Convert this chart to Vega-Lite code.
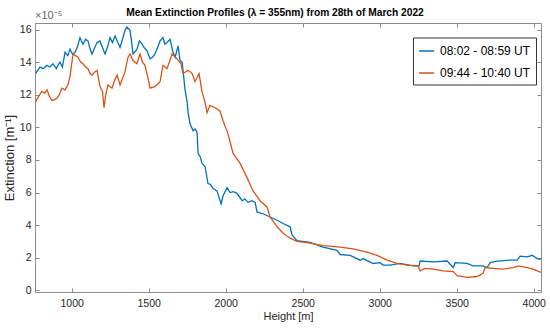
{
  "$schema": "https://vega.github.io/schema/vega-lite/v6.json",
  "autosize": "none",
  "width": 506,
  "height": 269,
  "padding": {"left": 35, "top": 23, "right": 9, "bottom": 37},
  "background": "white",
  "config": {
    "font": "Liberation Sans",
    "view": {"stroke": "#8c8c8c", "strokeWidth": 1},
    "axis": {"domainColor": "#8c8c8c", "tickColor": "#8c8c8c", "labelColor": "#262626", "titleColor": "#262626", "labelFontSize": 10.5, "titleFontSize": 11, "titleFontWeight": "normal", "grid": false}
  },
  "title": {"text": "Mean Extinction Profiles (λ = 355nm) from 28th of March 2022", "fontSize": 10.2, "fontWeight": "bold", "color": "#000000", "anchor": "middle", "offset": 5, "dx": -13, "dy": 13},
  "datasets": {
    "profiles": [
      {"h": 765, "v": 13.3, "s": "08:02 - 08:59 UT"},
      {"h": 794, "v": 13.7, "s": "08:02 - 08:59 UT"},
      {"h": 814, "v": 13.6, "s": "08:02 - 08:59 UT"},
      {"h": 840, "v": 13.8, "s": "08:02 - 08:59 UT"},
      {"h": 859, "v": 13.7, "s": "08:02 - 08:59 UT"},
      {"h": 879, "v": 13.9, "s": "08:02 - 08:59 UT"},
      {"h": 900, "v": 13.6, "s": "08:02 - 08:59 UT"},
      {"h": 911, "v": 13.8, "s": "08:02 - 08:59 UT"},
      {"h": 924, "v": 14.0, "s": "08:02 - 08:59 UT"},
      {"h": 940, "v": 13.7, "s": "08:02 - 08:59 UT"},
      {"h": 957, "v": 14.6, "s": "08:02 - 08:59 UT"},
      {"h": 975, "v": 14.4, "s": "08:02 - 08:59 UT"},
      {"h": 989, "v": 14.8, "s": "08:02 - 08:59 UT"},
      {"h": 1005, "v": 14.5, "s": "08:02 - 08:59 UT"},
      {"h": 1022, "v": 14.6, "s": "08:02 - 08:59 UT"},
      {"h": 1040, "v": 15.0, "s": "08:02 - 08:59 UT"},
      {"h": 1054, "v": 15.5, "s": "08:02 - 08:59 UT"},
      {"h": 1074, "v": 15.1, "s": "08:02 - 08:59 UT"},
      {"h": 1090, "v": 15.4, "s": "08:02 - 08:59 UT"},
      {"h": 1106, "v": 15.3, "s": "08:02 - 08:59 UT"},
      {"h": 1120, "v": 14.8, "s": "08:02 - 08:59 UT"},
      {"h": 1132, "v": 14.5, "s": "08:02 - 08:59 UT"},
      {"h": 1150, "v": 14.9, "s": "08:02 - 08:59 UT"},
      {"h": 1165, "v": 15.2, "s": "08:02 - 08:59 UT"},
      {"h": 1184, "v": 15.3, "s": "08:02 - 08:59 UT"},
      {"h": 1200, "v": 14.9, "s": "08:02 - 08:59 UT"},
      {"h": 1217, "v": 14.5, "s": "08:02 - 08:59 UT"},
      {"h": 1235, "v": 15.0, "s": "08:02 - 08:59 UT"},
      {"h": 1249, "v": 15.5, "s": "08:02 - 08:59 UT"},
      {"h": 1265, "v": 15.2, "s": "08:02 - 08:59 UT"},
      {"h": 1282, "v": 15.6, "s": "08:02 - 08:59 UT"},
      {"h": 1300, "v": 15.2, "s": "08:02 - 08:59 UT"},
      {"h": 1314, "v": 14.9, "s": "08:02 - 08:59 UT"},
      {"h": 1330, "v": 15.4, "s": "08:02 - 08:59 UT"},
      {"h": 1346, "v": 15.95, "s": "08:02 - 08:59 UT"},
      {"h": 1359, "v": 16.15, "s": "08:02 - 08:59 UT"},
      {"h": 1379, "v": 15.95, "s": "08:02 - 08:59 UT"},
      {"h": 1390, "v": 15.2, "s": "08:02 - 08:59 UT"},
      {"h": 1398, "v": 14.5, "s": "08:02 - 08:59 UT"},
      {"h": 1424, "v": 14.8, "s": "08:02 - 08:59 UT"},
      {"h": 1440, "v": 15.3, "s": "08:02 - 08:59 UT"},
      {"h": 1457, "v": 15.1, "s": "08:02 - 08:59 UT"},
      {"h": 1470, "v": 14.9, "s": "08:02 - 08:59 UT"},
      {"h": 1489, "v": 14.7, "s": "08:02 - 08:59 UT"},
      {"h": 1509, "v": 14.2, "s": "08:02 - 08:59 UT"},
      {"h": 1525, "v": 14.3, "s": "08:02 - 08:59 UT"},
      {"h": 1541, "v": 14.5, "s": "08:02 - 08:59 UT"},
      {"h": 1558, "v": 14.9, "s": "08:02 - 08:59 UT"},
      {"h": 1574, "v": 15.3, "s": "08:02 - 08:59 UT"},
      {"h": 1593, "v": 15.5, "s": "08:02 - 08:59 UT"},
      {"h": 1605, "v": 15.1, "s": "08:02 - 08:59 UT"},
      {"h": 1619, "v": 15.2, "s": "08:02 - 08:59 UT"},
      {"h": 1639, "v": 15.4, "s": "08:02 - 08:59 UT"},
      {"h": 1658, "v": 14.6, "s": "08:02 - 08:59 UT"},
      {"h": 1672, "v": 14.3, "s": "08:02 - 08:59 UT"},
      {"h": 1691, "v": 15.0, "s": "08:02 - 08:59 UT"},
      {"h": 1704, "v": 14.1, "s": "08:02 - 08:59 UT"},
      {"h": 1717, "v": 14.0, "s": "08:02 - 08:59 UT"},
      {"h": 1723, "v": 13.5, "s": "08:02 - 08:59 UT"},
      {"h": 1736, "v": 12.3, "s": "08:02 - 08:59 UT"},
      {"h": 1749, "v": 11.6, "s": "08:02 - 08:59 UT"},
      {"h": 1756, "v": 10.9, "s": "08:02 - 08:59 UT"},
      {"h": 1769, "v": 10.2, "s": "08:02 - 08:59 UT"},
      {"h": 1788, "v": 9.8, "s": "08:02 - 08:59 UT"},
      {"h": 1801, "v": 9.9, "s": "08:02 - 08:59 UT"},
      {"h": 1814, "v": 9.7, "s": "08:02 - 08:59 UT"},
      {"h": 1821, "v": 8.4, "s": "08:02 - 08:59 UT"},
      {"h": 1834, "v": 8.2, "s": "08:02 - 08:59 UT"},
      {"h": 1846, "v": 7.8, "s": "08:02 - 08:59 UT"},
      {"h": 1866, "v": 7.6, "s": "08:02 - 08:59 UT"},
      {"h": 1885, "v": 6.55, "s": "08:02 - 08:59 UT"},
      {"h": 1900, "v": 6.5, "s": "08:02 - 08:59 UT"},
      {"h": 1918, "v": 6.25, "s": "08:02 - 08:59 UT"},
      {"h": 1944, "v": 6.1, "s": "08:02 - 08:59 UT"},
      {"h": 1970, "v": 5.3, "s": "08:02 - 08:59 UT"},
      {"h": 1983, "v": 5.8, "s": "08:02 - 08:59 UT"},
      {"h": 2009, "v": 6.3, "s": "08:02 - 08:59 UT"},
      {"h": 2028, "v": 6.0, "s": "08:02 - 08:59 UT"},
      {"h": 2050, "v": 6.05, "s": "08:02 - 08:59 UT"},
      {"h": 2074, "v": 5.95, "s": "08:02 - 08:59 UT"},
      {"h": 2106, "v": 5.5, "s": "08:02 - 08:59 UT"},
      {"h": 2125, "v": 5.6, "s": "08:02 - 08:59 UT"},
      {"h": 2145, "v": 5.4, "s": "08:02 - 08:59 UT"},
      {"h": 2170, "v": 5.5, "s": "08:02 - 08:59 UT"},
      {"h": 2191, "v": 5.4, "s": "08:02 - 08:59 UT"},
      {"h": 2204, "v": 4.8, "s": "08:02 - 08:59 UT"},
      {"h": 2243, "v": 4.7, "s": "08:02 - 08:59 UT"},
      {"h": 2288, "v": 4.5, "s": "08:02 - 08:59 UT"},
      {"h": 2334, "v": 4.3, "s": "08:02 - 08:59 UT"},
      {"h": 2373, "v": 4.1, "s": "08:02 - 08:59 UT"},
      {"h": 2418, "v": 3.9, "s": "08:02 - 08:59 UT"},
      {"h": 2431, "v": 3.4, "s": "08:02 - 08:59 UT"},
      {"h": 2463, "v": 3.05, "s": "08:02 - 08:59 UT"},
      {"h": 2548, "v": 2.95, "s": "08:02 - 08:59 UT"},
      {"h": 2632, "v": 2.65, "s": "08:02 - 08:59 UT"},
      {"h": 2723, "v": 2.45, "s": "08:02 - 08:59 UT"},
      {"h": 2743, "v": 2.2, "s": "08:02 - 08:59 UT"},
      {"h": 2808, "v": 2.15, "s": "08:02 - 08:59 UT"},
      {"h": 2873, "v": 1.85, "s": "08:02 - 08:59 UT"},
      {"h": 2892, "v": 1.95, "s": "08:02 - 08:59 UT"},
      {"h": 2957, "v": 1.65, "s": "08:02 - 08:59 UT"},
      {"h": 3002, "v": 1.7, "s": "08:02 - 08:59 UT"},
      {"h": 3022, "v": 1.55, "s": "08:02 - 08:59 UT"},
      {"h": 3067, "v": 1.55, "s": "08:02 - 08:59 UT"},
      {"h": 3132, "v": 1.65, "s": "08:02 - 08:59 UT"},
      {"h": 3217, "v": 1.5, "s": "08:02 - 08:59 UT"},
      {"h": 3256, "v": 1.5, "s": "08:02 - 08:59 UT"},
      {"h": 3262, "v": 1.8, "s": "08:02 - 08:59 UT"},
      {"h": 3347, "v": 1.75, "s": "08:02 - 08:59 UT"},
      {"h": 3438, "v": 1.8, "s": "08:02 - 08:59 UT"},
      {"h": 3477, "v": 1.4, "s": "08:02 - 08:59 UT"},
      {"h": 3490, "v": 1.7, "s": "08:02 - 08:59 UT"},
      {"h": 3567, "v": 1.65, "s": "08:02 - 08:59 UT"},
      {"h": 3606, "v": 1.5, "s": "08:02 - 08:59 UT"},
      {"h": 3671, "v": 1.5, "s": "08:02 - 08:59 UT"},
      {"h": 3697, "v": 1.4, "s": "08:02 - 08:59 UT"},
      {"h": 3717, "v": 1.7, "s": "08:02 - 08:59 UT"},
      {"h": 3762, "v": 1.8, "s": "08:02 - 08:59 UT"},
      {"h": 3847, "v": 1.85, "s": "08:02 - 08:59 UT"},
      {"h": 3892, "v": 1.85, "s": "08:02 - 08:59 UT"},
      {"h": 3912, "v": 2.1, "s": "08:02 - 08:59 UT"},
      {"h": 3957, "v": 2.05, "s": "08:02 - 08:59 UT"},
      {"h": 3990, "v": 2.15, "s": "08:02 - 08:59 UT"},
      {"h": 4022, "v": 1.95, "s": "08:02 - 08:59 UT"},
      {"h": 4045, "v": 1.9, "s": "08:02 - 08:59 UT"},

      {"h": 765, "v": 11.55, "s": "09:44 - 10:40 UT"},
      {"h": 785, "v": 11.9, "s": "09:44 - 10:40 UT"},
      {"h": 807, "v": 12.2, "s": "09:44 - 10:40 UT"},
      {"h": 825, "v": 12.1, "s": "09:44 - 10:40 UT"},
      {"h": 840, "v": 12.3, "s": "09:44 - 10:40 UT"},
      {"h": 856, "v": 11.9, "s": "09:44 - 10:40 UT"},
      {"h": 872, "v": 11.65, "s": "09:44 - 10:40 UT"},
      {"h": 890, "v": 11.7, "s": "09:44 - 10:40 UT"},
      {"h": 905, "v": 11.8, "s": "09:44 - 10:40 UT"},
      {"h": 920, "v": 12.0, "s": "09:44 - 10:40 UT"},
      {"h": 937, "v": 12.4, "s": "09:44 - 10:40 UT"},
      {"h": 957, "v": 12.3, "s": "09:44 - 10:40 UT"},
      {"h": 975, "v": 12.6, "s": "09:44 - 10:40 UT"},
      {"h": 989, "v": 13.1, "s": "09:44 - 10:40 UT"},
      {"h": 1009, "v": 14.5, "s": "09:44 - 10:40 UT"},
      {"h": 1025, "v": 14.4, "s": "09:44 - 10:40 UT"},
      {"h": 1041, "v": 14.3, "s": "09:44 - 10:40 UT"},
      {"h": 1058, "v": 14.0, "s": "09:44 - 10:40 UT"},
      {"h": 1074, "v": 13.9, "s": "09:44 - 10:40 UT"},
      {"h": 1090, "v": 13.7, "s": "09:44 - 10:40 UT"},
      {"h": 1106, "v": 13.6, "s": "09:44 - 10:40 UT"},
      {"h": 1120, "v": 13.3, "s": "09:44 - 10:40 UT"},
      {"h": 1132, "v": 13.2, "s": "09:44 - 10:40 UT"},
      {"h": 1150, "v": 13.4, "s": "09:44 - 10:40 UT"},
      {"h": 1165, "v": 13.5, "s": "09:44 - 10:40 UT"},
      {"h": 1184, "v": 12.5, "s": "09:44 - 10:40 UT"},
      {"h": 1200, "v": 12.2, "s": "09:44 - 10:40 UT"},
      {"h": 1210, "v": 11.2, "s": "09:44 - 10:40 UT"},
      {"h": 1222, "v": 12.0, "s": "09:44 - 10:40 UT"},
      {"h": 1236, "v": 12.6, "s": "09:44 - 10:40 UT"},
      {"h": 1262, "v": 12.4, "s": "09:44 - 10:40 UT"},
      {"h": 1280, "v": 12.9, "s": "09:44 - 10:40 UT"},
      {"h": 1295, "v": 13.2, "s": "09:44 - 10:40 UT"},
      {"h": 1314, "v": 12.6, "s": "09:44 - 10:40 UT"},
      {"h": 1330, "v": 13.0, "s": "09:44 - 10:40 UT"},
      {"h": 1346, "v": 13.4, "s": "09:44 - 10:40 UT"},
      {"h": 1366, "v": 14.3, "s": "09:44 - 10:40 UT"},
      {"h": 1379, "v": 14.5, "s": "09:44 - 10:40 UT"},
      {"h": 1398, "v": 14.1, "s": "09:44 - 10:40 UT"},
      {"h": 1424, "v": 13.9, "s": "09:44 - 10:40 UT"},
      {"h": 1444, "v": 14.5, "s": "09:44 - 10:40 UT"},
      {"h": 1460, "v": 14.0, "s": "09:44 - 10:40 UT"},
      {"h": 1476, "v": 13.8, "s": "09:44 - 10:40 UT"},
      {"h": 1496, "v": 13.0, "s": "09:44 - 10:40 UT"},
      {"h": 1509, "v": 12.4, "s": "09:44 - 10:40 UT"},
      {"h": 1541, "v": 12.5, "s": "09:44 - 10:40 UT"},
      {"h": 1574, "v": 12.8, "s": "09:44 - 10:40 UT"},
      {"h": 1593, "v": 13.8, "s": "09:44 - 10:40 UT"},
      {"h": 1619, "v": 13.6, "s": "09:44 - 10:40 UT"},
      {"h": 1652, "v": 14.5, "s": "09:44 - 10:40 UT"},
      {"h": 1684, "v": 14.2, "s": "09:44 - 10:40 UT"},
      {"h": 1710, "v": 13.9, "s": "09:44 - 10:40 UT"},
      {"h": 1723, "v": 13.3, "s": "09:44 - 10:40 UT"},
      {"h": 1756, "v": 13.5, "s": "09:44 - 10:40 UT"},
      {"h": 1782, "v": 13.3, "s": "09:44 - 10:40 UT"},
      {"h": 1801, "v": 12.8, "s": "09:44 - 10:40 UT"},
      {"h": 1827, "v": 13.3, "s": "09:44 - 10:40 UT"},
      {"h": 1846, "v": 12.2, "s": "09:44 - 10:40 UT"},
      {"h": 1866, "v": 11.55, "s": "09:44 - 10:40 UT"},
      {"h": 1879, "v": 10.9, "s": "09:44 - 10:40 UT"},
      {"h": 1898, "v": 11.35, "s": "09:44 - 10:40 UT"},
      {"h": 1931, "v": 11.2, "s": "09:44 - 10:40 UT"},
      {"h": 1963, "v": 11.0, "s": "09:44 - 10:40 UT"},
      {"h": 1983, "v": 10.4, "s": "09:44 - 10:40 UT"},
      {"h": 2015, "v": 9.6, "s": "09:44 - 10:40 UT"},
      {"h": 2048, "v": 8.4, "s": "09:44 - 10:40 UT"},
      {"h": 2093, "v": 7.8, "s": "09:44 - 10:40 UT"},
      {"h": 2139, "v": 6.9, "s": "09:44 - 10:40 UT"},
      {"h": 2178, "v": 6.1, "s": "09:44 - 10:40 UT"},
      {"h": 2223, "v": 5.5, "s": "09:44 - 10:40 UT"},
      {"h": 2269, "v": 5.1, "s": "09:44 - 10:40 UT"},
      {"h": 2288, "v": 4.5, "s": "09:44 - 10:40 UT"},
      {"h": 2334, "v": 3.9, "s": "09:44 - 10:40 UT"},
      {"h": 2373, "v": 3.5, "s": "09:44 - 10:40 UT"},
      {"h": 2418, "v": 3.2, "s": "09:44 - 10:40 UT"},
      {"h": 2463, "v": 3.0, "s": "09:44 - 10:40 UT"},
      {"h": 2548, "v": 2.9, "s": "09:44 - 10:40 UT"},
      {"h": 2632, "v": 2.75, "s": "09:44 - 10:40 UT"},
      {"h": 2743, "v": 2.65, "s": "09:44 - 10:40 UT"},
      {"h": 2827, "v": 2.55, "s": "09:44 - 10:40 UT"},
      {"h": 2918, "v": 2.35, "s": "09:44 - 10:40 UT"},
      {"h": 2983, "v": 2.15, "s": "09:44 - 10:40 UT"},
      {"h": 3048, "v": 1.85, "s": "09:44 - 10:40 UT"},
      {"h": 3113, "v": 1.65, "s": "09:44 - 10:40 UT"},
      {"h": 3178, "v": 1.55, "s": "09:44 - 10:40 UT"},
      {"h": 3249, "v": 1.5, "s": "09:44 - 10:40 UT"},
      {"h": 3262, "v": 1.2, "s": "09:44 - 10:40 UT"},
      {"h": 3295, "v": 1.35, "s": "09:44 - 10:40 UT"},
      {"h": 3347, "v": 1.3, "s": "09:44 - 10:40 UT"},
      {"h": 3412, "v": 1.2, "s": "09:44 - 10:40 UT"},
      {"h": 3477, "v": 1.15, "s": "09:44 - 10:40 UT"},
      {"h": 3503, "v": 0.9, "s": "09:44 - 10:40 UT"},
      {"h": 3567, "v": 0.8, "s": "09:44 - 10:40 UT"},
      {"h": 3632, "v": 0.85, "s": "09:44 - 10:40 UT"},
      {"h": 3671, "v": 1.05, "s": "09:44 - 10:40 UT"},
      {"h": 3684, "v": 1.4, "s": "09:44 - 10:40 UT"},
      {"h": 3736, "v": 1.35, "s": "09:44 - 10:40 UT"},
      {"h": 3801, "v": 1.3, "s": "09:44 - 10:40 UT"},
      {"h": 3866, "v": 1.4, "s": "09:44 - 10:40 UT"},
      {"h": 3899, "v": 1.5, "s": "09:44 - 10:40 UT"},
      {"h": 3957, "v": 1.4, "s": "09:44 - 10:40 UT"},
      {"h": 3996, "v": 1.3, "s": "09:44 - 10:40 UT"},
      {"h": 4045, "v": 1.1, "s": "09:44 - 10:40 UT"}
    ],
    "note": [{"label": "×10⁻⁵"}]
  },
  "layer": [
    {
      "data": {"name": "profiles"},
      "mark": {"type": "line", "strokeWidth": 1.3, "clip": true},
      "encoding": {
        "x": {"field": "h", "type": "quantitative", "scale": {"domain": [762, 4047], "nice": false, "zero": false},
              "axis": {"title": "Height [m]", "format": "d", "values": [1000, 1500, 2000, 2500, 3000, 3500, 4000], "tickSize": -4, "labelPadding": 10, "titlePadding": 2}},
        "y": {"field": "v", "type": "quantitative", "scale": {"domain": [-0.1, 16.4], "nice": false, "zero": false},
              "axis": {"title": "Extinction [m⁻¹]", "titleFontSize": 13, "values": [0, 2, 4, 6, 8, 10, 12, 14, 16], "tickSize": -4, "labelPadding": 8, "titlePadding": 3}},
        "color": {"field": "s", "type": "nominal", "scale": {"domain": ["08:02 - 08:59 UT", "09:44 - 10:40 UT"], "range": ["#0072BD", "#D95319"]},
                  "legend": {"title": null, "orient": "none", "legendX": 378, "legendY": 14.5, "symbolType": "stroke", "symbolSize": 225, "symbolStrokeWidth": 1.5, "labelFontSize": 12, "labelColor": "#000000", "labelOffset": 5, "rowPadding": 7, "padding": 5, "strokeColor": "#333333", "fillColor": "white"}}
      }
    },
    {
      "data": {"name": "note"},
      "mark": {"type": "text", "align": "left", "baseline": "bottom", "fontSize": 11, "color": "#666666", "dy": -2},
      "encoding": {
        "x": {"datum": 762, "type": "quantitative", "axis": {"orient": "top", "labels": false, "title": null, "domain": false, "values": [1000, 1500, 2000, 2500, 3000, 3500, 4000], "tickSize": -4}},
        "y": {"datum": 16.4, "type": "quantitative", "axis": {"orient": "right", "labels": false, "title": null, "domain": false, "values": [0, 2, 4, 6, 8, 10, 12, 14, 16], "tickSize": -4}},
        "text": {"field": "label"}
      }
    }
  ],
  "resolve": {"axis": {"x": "independent", "y": "independent"}}
}
